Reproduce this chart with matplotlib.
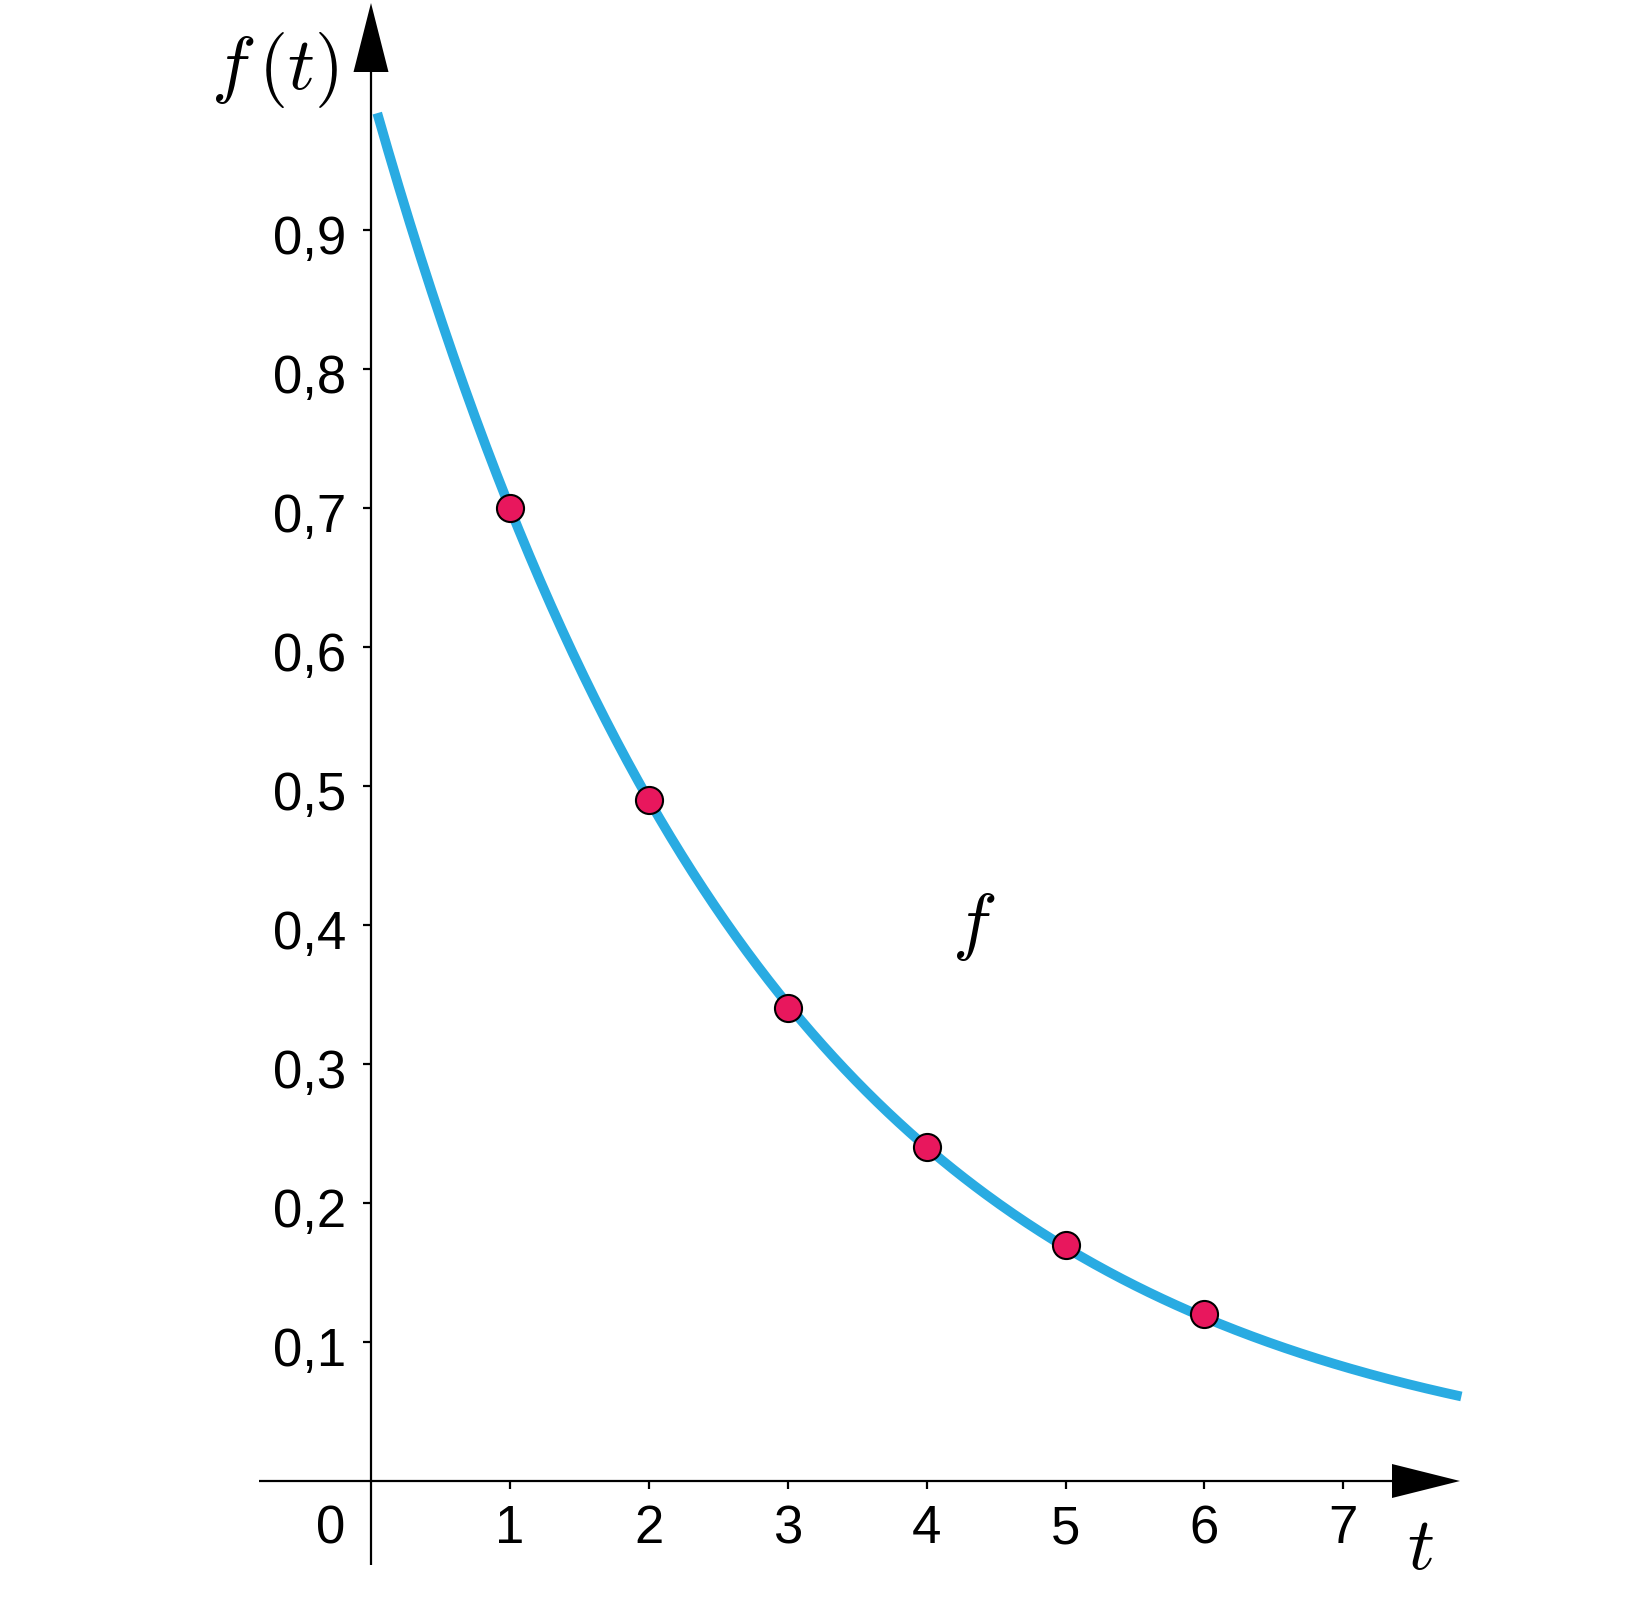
import numpy as np
import matplotlib
matplotlib.use("Agg")
import matplotlib.pyplot as plt

# ---- data ----
x_ticks = [1, 2, 3, 4, 5, 6, 7]
x_tick_labels = ["1", "2", "3", "4", "5", "6", "7"]
y_ticks = [0.1, 0.2, 0.3, 0.4, 0.5, 0.6, 0.7, 0.8, 0.9]
y_tick_labels = ["0,1", "0,2", "0,3", "0,4", "0,5", "0,6", "0,7", "0,8", "0,9"]
point_t = [1, 2, 3, 4, 5, 6]
point_f = [0.70, 0.49, 0.34, 0.24, 0.17, 0.12]
# curve f(t) = f0 * b**t, parameters
f0 = 1.0
base = 0.7
t_start, t_end = 0.045, 7.85

plt.rcParams["mathtext.fontset"] = "cm"
plt.rcParams["font.family"] = ["Liberation Sans", "DejaVu Sans"]

W, H = 1644, 1600
fig = plt.figure(figsize=(W / 100, H / 100), dpi=100)
ax = fig.add_axes([0, 0, 1, 1])
ax.set_axis_off()

ox, oy = 371.0, 1481.0      # pixel of origin
ux, uy = 138.9, 1390.0      # pixels per data unit
ax.set_xlim(-ox / ux, (W - ox) / ux)
ax.set_ylim(-(H - oy) / uy, oy / uy)

def px(dx):
    return dx / ux

def py(dy):
    return dy / uy

axis_lw = 1.6
# x axis
x_left, x_tip = px(259 - ox), px(1460 - ox)
ax.plot([x_left, x_tip - px(60)], [0, 0], color="black", lw=axis_lw, solid_capstyle="butt", zorder=2)
ax.fill([x_tip - px(68), x_tip, x_tip - px(68)], [py(17), 0, -py(17)], color="black", lw=0, zorder=3)
# y axis
y_bottom, y_tip = -py(1565 - oy), py(oy - 3)
ax.plot([0, 0], [y_bottom, y_tip - py(60)], color="black", lw=axis_lw, solid_capstyle="butt", zorder=2)
ax.fill([-px(17.5), 0, px(17.5)], [y_tip - py(69), y_tip, y_tip - py(69)], color="black", lw=0, zorder=3)

# ticks
for xt in x_ticks:
    ax.plot([xt, xt], [0, -py(8)], color="black", lw=axis_lw, solid_capstyle="butt")
for yt in y_ticks:
    ax.plot([-px(8), 0], [yt, yt], color="black", lw=axis_lw, solid_capstyle="butt")

fs = 38
for xt, lab in zip(x_ticks, x_tick_labels):
    ax.text(xt, -py(62), lab, ha="center", va="baseline", fontsize=fs)
ax.text(px(345 - ox), -py(62), "0", ha="right", va="baseline", fontsize=fs)
for yt, lab in zip(y_ticks, y_tick_labels):
    ax.text(px(346 - ox), yt - py(24), lab, ha="right", va="baseline", fontsize=fs)

# curve
t = np.linspace(t_start, t_end, 400)
ax.plot(t, f0 * base ** t, color="#29ABE2", lw=7, solid_capstyle="butt", zorder=4)
ax.plot(point_t, point_f, "o", ms=19.5, color="#E8175D", mec="black", mew=1.5, zorder=5)

# labels
ax.text(px(275 - ox), py(oy - 70), r"$f\,(t)$", ha="center", va="center", fontsize=54)
ax.text(px(1420 - ox), -py(1550 - oy), r"$t$", ha="center", va="center", fontsize=54)
ax.text(px(974 - ox), py(oy - 927), r"$f$", ha="center", va="center", fontsize=54)

fig.savefig("out.png", dpi=100)
